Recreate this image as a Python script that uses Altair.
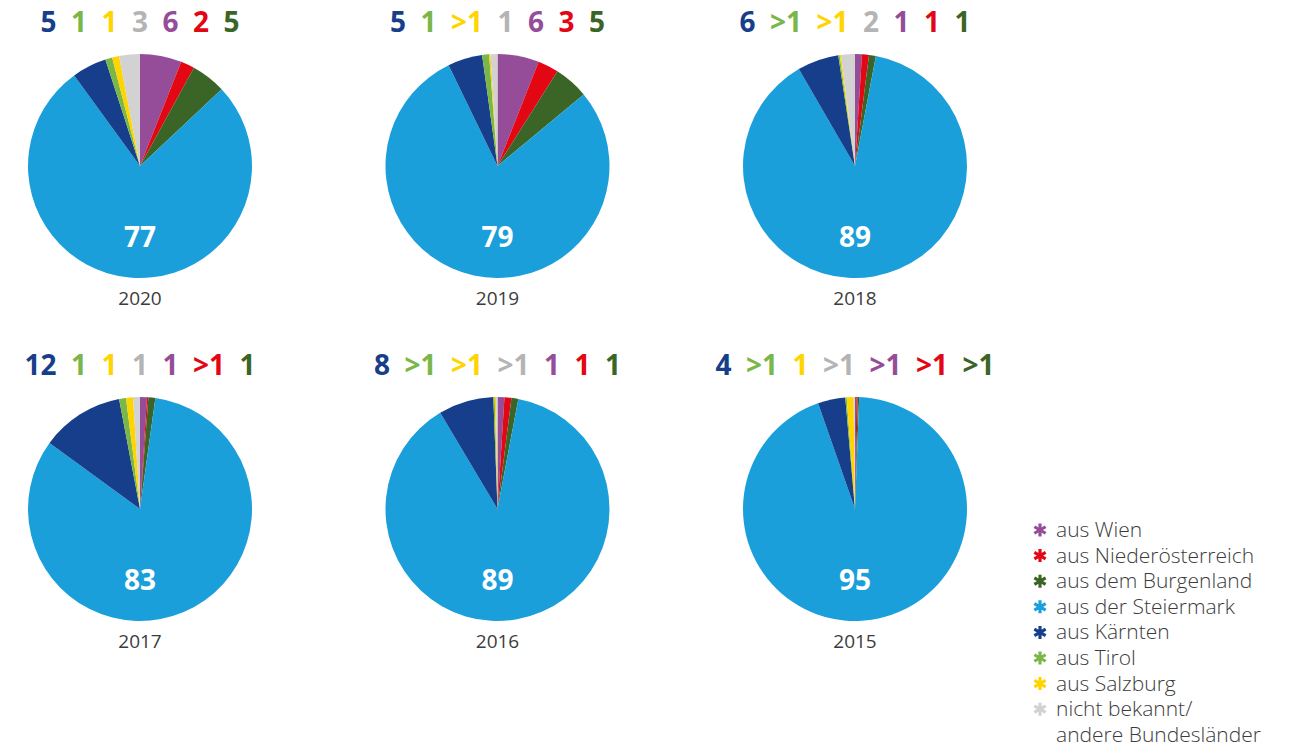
import math
import altair as alt
import pandas as pd

years = ["2020", "2019", "2018", "2017", "2016", "2015"]
regions = ["aus Wien", "aus Niederösterreich", "aus dem Burgenland", "aus der Steiermark",
           "aus Kärnten", "aus Tirol", "aus Salzburg", "nicht bekannt/\nandere Bundesländer"]
label_order = ["aus Kärnten", "aus Tirol", "aus Salzburg", "nicht bekannt/\nandere Bundesländer",
               "aus Wien", "aus Niederösterreich", "aus dem Burgenland"]
slice_colors = ["#954d99", "#e30613", "#3b6526", "#1a9fdb", "#173e8a", "#7ab648", "#ffd500", "#d2d2d2"]
text_colors = ["#954d99", "#e30613", "#3b6526", "#1a9fdb", "#173e8a", "#7ab648", "#ffd500", "#b4b4b4"]

# labels as printed (order = regions)
labels_2020 = ["6", "2", "5", "77", "5", "1", "1", "3"]
labels_2019 = ["6", "3", "5", "79", "5", "1", ">1", "1"]
labels_2018 = ["1", "1", "1", "89", "6", ">1", ">1", "2"]
labels_2017 = ["1", ">1", "1", "83", "12", "1", "1", "1"]
labels_2016 = ["1", "1", "1", "89", "8", ">1", ">1", ">1"]
labels_2015 = [">1", ">1", ">1", "95", "4", ">1", "1", ">1"]

# slice sizes (percent)
values_2020 = [6, 2, 5, 77, 5, 1, 1, 3]
values_2019 = [6, 3, 5, 79, 5, 1, 0.2, 1]
values_2018 = [1, 1, 1, 89, 6, 0.2, 0.2, 2]
values_2017 = [1, 0.2, 1, 83, 12, 1, 1, 1]
values_2016 = [1, 1, 1, 89, 8, 0.2, 0.2, 0.2]
values_2015 = [0.2, 0.2, 0.2, 95, 4, 0.2, 1, 0.2]

labels_by_year = dict(zip(years, [labels_2020, labels_2019, labels_2018, labels_2017, labels_2016, labels_2015]))
values_by_year = dict(zip(years, [values_2020, values_2019, values_2018, values_2017, values_2016, values_2015]))

rows = []
for y in years:
    for i, r in enumerate(regions):
        rows.append({
            "year": y, "region": r, "porder": i,
            "value": values_by_year[y][i], "label": labels_by_year[y][i],
            "lorder": label_order.index(r) if r in label_order else -1,
        })
df = pd.DataFrame(rows)

color_slices = alt.Color("region:N", scale=alt.Scale(domain=regions, range=slice_colors), legend=None)
color_text = alt.Color("region:N", scale=alt.Scale(domain=regions, range=text_colors), legend=None)

PANEL_W, PANEL_H = 254, 268
PIE_SHIFT = 19

arcs = alt.Chart().mark_arc(outerRadius=112, yOffset=PIE_SHIFT).encode(
    theta=alt.Theta("value:Q", stack="normalize"),
    color=color_slices,
    order=alt.Order("porder:Q", sort="ascending"),
)

inner = alt.Chart().transform_filter(
    alt.datum.region == "aus der Steiermark"
).mark_text(dy=73 + PIE_SHIFT, fontSize=28, fontWeight="bold", font="Open Sans", color="white").encode(
    text="label:N"
)

GAP = 14.5
top = alt.Chart().transform_filter(
    alt.datum.lorder >= 0
).transform_calculate(
    slot=f"length(datum.label)*16 + {GAP}"
).transform_window(
    cum="sum(slot)", groupby=["year"], sort=[alt.SortField("lorder", order="ascending")]
).transform_joinaggregate(
    tot="sum(slot)", groupby=["year"]
).transform_calculate(
    xpos=f"datum.cum - datum.slot/2 - {GAP/2} - (datum.tot - {GAP})/2"
).mark_text(fontSize=28, fontWeight="bold", font="Open Sans", baseline="middle").encode(
    x=alt.X("xpos:Q", axis=None, scale=alt.Scale(domain=[-127, 127], nice=False, zero=False)),
    y=alt.value(11),
    text="label:N",
    color=color_text,
)

panel = alt.layer(arcs, top, inner, data=df).resolve_scale(color="independent").properties(
    width=PANEL_W, height=PANEL_H
)

facet = panel.facet(
    facet=alt.Facet("year:N", sort=years, title=None,
                    header=alt.Header(labelOrient="bottom", labelFontSize=19, labelFont="Open Sans",
                                      labelColor="#3c3c3c", labelPadding=9)),
    columns=3,
    spacing={"row": 75, "column": 103.5},
    bounds="flush",
)

# manual legend with asterisk symbols
def bar_path(a_deg, w=0.24):
    a = math.radians(a_deg)
    dx, dy = math.sin(a), -math.cos(a)
    nx, ny = math.cos(a), math.sin(a)
    pts = [(dx + nx * w, dy + ny * w), (dx - nx * w, dy - ny * w),
           (-dx - nx * w, -dy - ny * w), (-dx + nx * w, -dy + ny * w)]
    return "M" + " L".join(f"{px:.3f},{py:.3f}" for px, py in pts) + " Z"

star_path = " ".join(bar_path(a) for a in (0, 60, 120))

leg_df = pd.DataFrame({"region": regions, "lidx": list(range(len(regions)))})
yscale = alt.Scale(domain=[0, 7], range=[517, 517 + 7 * 25.6], nice=False, zero=False)

leg_sym = alt.Chart(leg_df).mark_point(shape=star_path, filled=True, size=170, opacity=1).encode(
    x=alt.value(8),
    y=alt.Y("lidx:Q", axis=None, scale=yscale),
    color=color_slices,
)
leg_txt = alt.Chart(leg_df).mark_text(
    align="left", baseline="alphabetic", dy=7, fontSize=21, font="Open Sans", fontWeight=300,
    color="#3c3c3c", lineBreak="\n", lineHeight=26,
).encode(
    x=alt.value(24),
    y=alt.Y("lidx:Q", axis=None, scale=yscale),
    text="region:N",
)
legend = alt.layer(leg_sym, leg_txt).properties(width=230, height=700)

chart = alt.hconcat(facet, legend, spacing=37).configure_view(stroke=None).properties(
    background="white",
    padding={"top": 2, "left": 5, "right": 5, "bottom": 5},
)

chart.save("out.html", embed_options={"renderer": "svg", "actions": False})
